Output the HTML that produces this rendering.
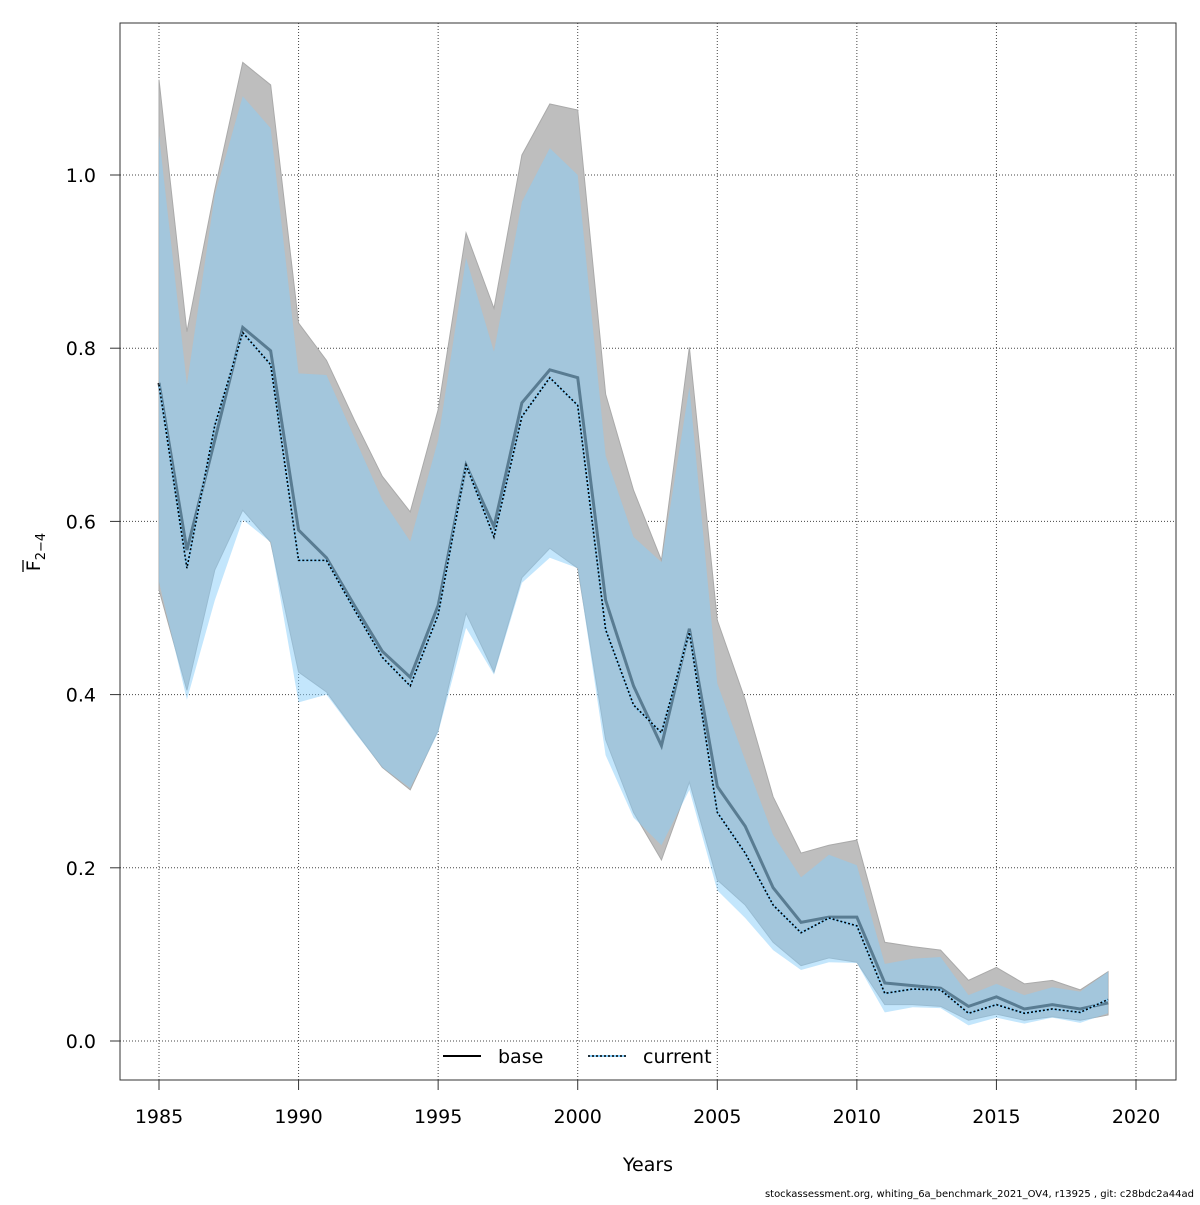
<!DOCTYPE html>
<html><head><meta charset="utf-8"><style>
body{margin:0;background:#fff;}
svg text{font-family:"DejaVu Sans","Liberation Sans",sans-serif;}
</style></head><body>
<svg id="chart" width="1200" height="1200" viewBox="0 0 1200 1200" xmlns="http://www.w3.org/2000/svg">
<rect x="0" y="0" width="1200" height="1200" fill="#fff"/>
<g id="grid"></g>
<g id="bands"></g>
<g id="lines"></g>
<rect x="120" y="23" width="1056" height="1057" fill="none" stroke="#333" stroke-width="1"/>
<g id="axes"></g>
<text x="648" y="1171" font-size="19" text-anchor="middle">Years</text>
<g transform="translate(40,552) rotate(-90)">
<text x="0" y="0" font-size="19" text-anchor="middle">F<tspan font-size="13" dy="5">2−4</tspan></text>
<line x1="-20" y1="-17" x2="-8" y2="-17" stroke="#000" stroke-width="1.3"/>
</g>
<g>
<g>
<line x1="443" y1="1056" x2="481" y2="1056" stroke="#000" stroke-width="2"/>
<text x="498" y="1063" font-size="19">base</text></g>
<g>
<line x1="588" y1="1056" x2="626" y2="1056" stroke="#87cefa" stroke-width="2"/>
<line x1="588" y1="1056" x2="626" y2="1056" stroke="#000" stroke-width="1.5" stroke-dasharray="2,2"/>
<text x="643" y="1063" font-size="19">current</text></g>
</g>
<text x="1194" y="1197" font-size="10" text-anchor="end">stockassessment.org, whiting_6a_benchmark_2021_OV4, r13925 , git: c28bdc2a44ad</text>
</svg>
<script>
const years=[1985,1986,1987,1988,1989,1990,1991,1992,1993,1994,1995,1996,1997,1998,1999,2000,2001,2002,2003,2004,2005,2006,2007,2008,2009,2010,2011,2012,2013,2014,2015,2016,2017,2018,2019];
const baseF=[0.760,0.567,0.694,0.824,0.797,0.590,0.558,0.503,0.450,0.420,0.503,0.665,0.594,0.737,0.775,0.766,0.509,0.410,0.341,0.476,0.294,0.248,0.177,0.137,0.143,0.143,0.067,0.064,0.061,0.040,0.051,0.037,0.042,0.037,0.044];
const baseHi=[1.110,0.819,0.983,1.130,1.104,0.829,0.786,0.717,0.652,0.611,0.729,0.933,0.846,1.023,1.082,1.075,0.747,0.636,0.555,0.801,0.486,0.394,0.282,0.217,0.226,0.232,0.114,0.109,0.105,0.070,0.085,0.066,0.070,0.059,0.080];
const baseLo=[0.521,0.405,0.544,0.613,0.576,0.426,0.403,0.359,0.316,0.290,0.359,0.494,0.426,0.535,0.569,0.546,0.348,0.264,0.209,0.299,0.186,0.157,0.114,0.087,0.096,0.091,0.042,0.042,0.040,0.024,0.031,0.024,0.028,0.024,0.030];
const curF=[0.758,0.546,0.711,0.818,0.781,0.555,0.555,0.498,0.443,0.410,0.492,0.665,0.582,0.721,0.766,0.734,0.475,0.388,0.356,0.472,0.264,0.217,0.157,0.125,0.142,0.133,0.055,0.060,0.059,0.032,0.042,0.032,0.037,0.033,0.048];
const curHi=[1.046,0.758,0.977,1.091,1.054,0.771,0.769,0.697,0.625,0.577,0.694,0.904,0.796,0.969,1.031,1.000,0.676,0.582,0.553,0.755,0.413,0.324,0.238,0.189,0.215,0.203,0.089,0.095,0.097,0.053,0.066,0.053,0.062,0.057,0.080];
const curLo=[0.530,0.394,0.509,0.602,0.576,0.391,0.400,0.357,0.316,0.292,0.356,0.477,0.423,0.529,0.558,0.546,0.330,0.258,0.226,0.290,0.174,0.142,0.105,0.082,0.091,0.090,0.033,0.039,0.038,0.018,0.027,0.020,0.027,0.021,0.032];
const xTicks=[1985,1990,1995,2000,2005,2010,2015,2020];
const yTicks=[0,0.2,0.4,0.6,0.8,1.0];
const yTickLabels=["0.0","0.2","0.4","0.6","0.8","1.0"];

const NS="http://www.w3.org/2000/svg";
function X(v){return 159+(v-1985)*(1136-159)/35;}
function Y(v){return 1041-v*866;}
function mk(tag,attrs,parent){const e=document.createElementNS(NS,tag);for(const k in attrs)e.setAttribute(k,attrs[k]);parent.appendChild(e);return e;}
const grid=document.getElementById('grid'),bands=document.getElementById('bands'),lines=document.getElementById('lines'),axes=document.getElementById('axes');
xTicks.forEach(t=>{
  const l=mk('line',{x1:X(t),x2:X(t),y1:23,y2:1080,stroke:'#444','stroke-width':1,'stroke-dasharray':'1,2'},grid);
  
  
  const tk=mk('line',{x1:X(t),x2:X(t),y1:1080,y2:1090,stroke:'#333'},axes);
  
  
  const tx=mk('text',{x:X(t),y:1123,'font-size':19,'text-anchor':'middle'},axes);
  tx.textContent=t;
  
  
});
yTicks.forEach((t,i)=>{
  const l=mk('line',{x1:120,x2:1176,y1:Y(t),y2:Y(t),stroke:'#444','stroke-width':1,'stroke-dasharray':'1,2'},grid);
  
  
  const tk=mk('line',{x1:110,x2:120,y1:Y(t),y2:Y(t),stroke:'#333'},axes);
  
  
  const tx=mk('text',{x:96,y:Y(t)+7,'font-size':19,'text-anchor':'end'},axes);
  tx.textContent=yTickLabels[i];
  
  
});
function band(hi,lo){
  let d='';years.forEach((y,i)=>{d+=(i?'L':'M')+X(y)+','+Y(hi[i]);});
  for(let i=years.length-1;i>=0;i--)d+='L'+X(years[i])+','+Y(lo[i]);
  return d+'Z';
}
function line(v){let d='';years.forEach((y,i)=>{d+=(i?'L':'M')+X(y)+','+Y(v[i]);});return d;}
const b1=mk('path',{d:band(baseHi,baseLo),fill:'#bebebe',stroke:'#aaa','stroke-width':1},bands);


const l2=mk('path',{d:line(baseF),fill:'none',stroke:'#2a2a2a','stroke-width':3},bands);


const b2=mk('path',{d:band(curHi,curLo),fill:'rgba(135,206,250,0.5)',stroke:'none'},bands);


const l3=mk('path',{d:line(curF),fill:'none',stroke:'#87cefa','stroke-width':2},lines);


const l4=mk('path',{d:line(curF),fill:'none',stroke:'#000','stroke-width':1.6,'stroke-dasharray':'2,2'},lines);


</script>
</body></html>
